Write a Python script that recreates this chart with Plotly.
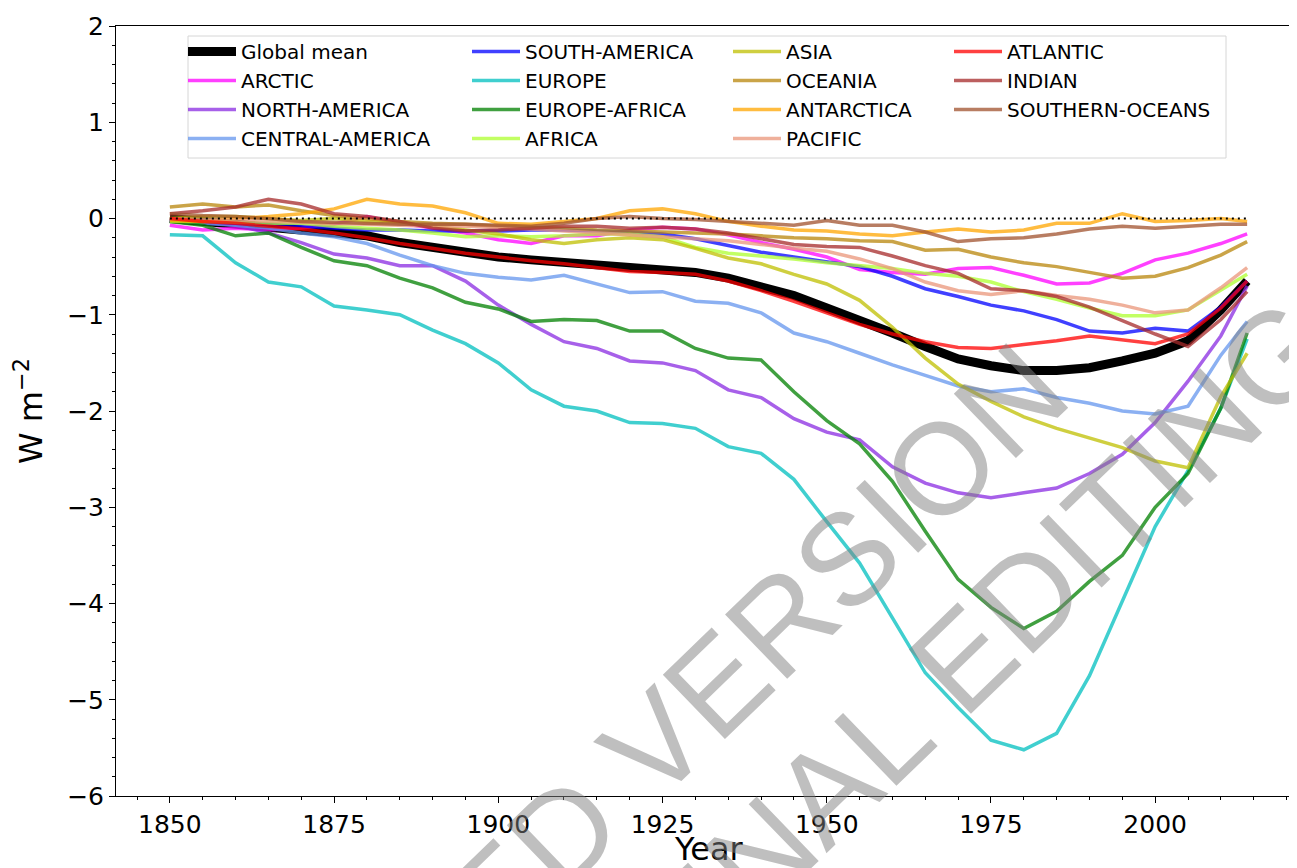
import plotly.graph_objects as go

years = [1850, 1855, 1860, 1865, 1870, 1875, 1880, 1885, 1890, 1895, 1900, 1905,
         1910, 1915, 1920, 1925, 1930, 1935, 1940, 1945, 1950, 1955, 1960, 1965,
         1970, 1975, 1980, 1985, 1990, 1995, 2000, 2005, 2010, 2014]

global_mean = [0.0, -0.03, -0.05, -0.07, -0.10, -0.14, -0.18, -0.25, -0.30, -0.36, -0.40, -0.43,
               -0.46, -0.49, -0.52, -0.53, -0.56, -0.62, -0.70, -0.80, -0.93, -1.05, -1.19, -1.33,
               -1.46, -1.53, -1.58, -1.58, -1.55, -1.48, -1.40, -1.27, -0.95, -0.65]
arctic = [-0.07, -0.12, -0.10, -0.12, -0.10, -0.06, 0.02, -0.05, -0.10, -0.15, -0.22, -0.26,
          -0.18, -0.18, -0.12, -0.09, -0.11, -0.17, -0.25, -0.32, -0.40, -0.53, -0.56, -0.58,
          -0.52, -0.51, -0.59, -0.68, -0.67, -0.57, -0.43, -0.36, -0.26, -0.16]
north_america = [-0.02, -0.04, -0.07, -0.15, -0.25, -0.37, -0.41, -0.49, -0.49, -0.65, -0.90, -1.10,
                 -1.28, -1.35, -1.48, -1.50, -1.58, -1.78, -1.86, -2.08, -2.22, -2.30, -2.58, -2.75,
                 -2.85, -2.90, -2.85, -2.80, -2.65, -2.45, -2.12, -1.69, -1.22, -0.70]
central_america = [-0.02, -0.05, -0.07, -0.10, -0.15, -0.19, -0.26, -0.38, -0.49, -0.57, -0.61, -0.64,
                   -0.59, -0.68, -0.77, -0.76, -0.86, -0.88, -0.98, -1.19, -1.28, -1.40, -1.52, -1.63,
                   -1.74, -1.80, -1.77, -1.86, -1.92, -2.00, -2.03, -1.95, -1.42, -1.07]
south_america = [-0.02, -0.03, -0.05, -0.06, -0.08, -0.10, -0.12, -0.12, -0.13, -0.13, -0.13, -0.12,
                 -0.12, -0.13, -0.14, -0.16, -0.21, -0.28, -0.35, -0.40, -0.45, -0.50, -0.60, -0.73,
                 -0.81, -0.90, -0.96, -1.05, -1.17, -1.19, -1.14, -1.17, -0.92, -0.65]
europe = [-0.17, -0.18, -0.46, -0.66, -0.71, -0.91, -0.95, -1.00, -1.16, -1.30, -1.50, -1.78,
          -1.95, -2.00, -2.12, -2.13, -2.18, -2.37, -2.44, -2.71, -3.15, -3.58, -4.15, -4.72,
          -5.08, -5.42, -5.52, -5.35, -4.75, -3.98, -3.20, -2.62, -1.97, -1.25]
europe_africa = [-0.03, -0.07, -0.18, -0.15, -0.30, -0.44, -0.49, -0.62, -0.72, -0.87, -0.94, -1.07,
                 -1.05, -1.06, -1.17, -1.17, -1.35, -1.45, -1.47, -1.80, -2.10, -2.34, -2.73, -3.25,
                 -3.75, -4.04, -4.26, -4.08, -3.77, -3.50, -3.00, -2.65, -1.97, -1.19]
africa = [-0.03, -0.03, -0.04, -0.05, -0.05, -0.08, -0.10, -0.12, -0.15, -0.19, -0.18, -0.19,
          -0.18, -0.16, -0.16, -0.19, -0.30, -0.36, -0.39, -0.42, -0.46, -0.49, -0.52, -0.57,
          -0.60, -0.66, -0.76, -0.84, -0.93, -1.01, -1.01, -0.95, -0.75, -0.58]
asia = [0.0, 0.02, 0.02, 0.0, -0.02, 0.0, -0.03, -0.05, -0.08, -0.12, -0.16, -0.22,
        -0.26, -0.22, -0.20, -0.22, -0.31, -0.41, -0.47, -0.58, -0.68, -0.85, -1.13, -1.45,
        -1.72, -1.90, -2.06, -2.18, -2.28, -2.38, -2.52, -2.59, -1.85, -1.40]
oceania = [0.12, 0.15, 0.12, 0.14, 0.08, 0.03, 0.0, -0.03, -0.05, -0.06, -0.08, -0.09,
           -0.10, -0.12, -0.13, -0.14, -0.15, -0.16, -0.18, -0.20, -0.21, -0.23, -0.24, -0.33,
           -0.32, -0.40, -0.46, -0.50, -0.56, -0.62, -0.60, -0.51, -0.38, -0.24]
antarctica = [-0.02, -0.03, 0.0, 0.02, 0.05, 0.10, 0.20, 0.15, 0.13, 0.06, -0.05, -0.06,
              -0.03, 0.0, 0.08, 0.10, 0.05, -0.03, -0.08, -0.12, -0.13, -0.16, -0.18, -0.14,
              -0.11, -0.14, -0.12, -0.05, -0.05, 0.05, -0.03, -0.02, 0.0, -0.03]
pacific = [0.0, -0.01, -0.02, -0.03, -0.04, -0.05, -0.06, -0.07, -0.08, -0.08, -0.09, -0.11,
           -0.13, -0.15, -0.17, -0.19, -0.21, -0.23, -0.27, -0.31, -0.34, -0.42, -0.52, -0.66,
           -0.75, -0.79, -0.75, -0.80, -0.84, -0.90, -0.98, -0.95, -0.72, -0.51]
atlantic = [0.0, -0.03, -0.05, -0.08, -0.11, -0.15, -0.20, -0.26, -0.31, -0.36, -0.40, -0.44,
            -0.47, -0.51, -0.55, -0.56, -0.58, -0.65, -0.75, -0.86, -0.98, -1.10, -1.20, -1.28,
            -1.34, -1.35, -1.31, -1.27, -1.22, -1.26, -1.30, -1.20, -0.93, -0.65]
indian = [0.05, 0.08, 0.12, 0.20, 0.15, 0.05, 0.02, -0.03, -0.10, -0.13, -0.12, -0.10,
          -0.08, -0.08, -0.10, -0.09, -0.11, -0.15, -0.21, -0.27, -0.29, -0.30, -0.39, -0.49,
          -0.57, -0.73, -0.75, -0.81, -0.92, -1.06, -1.20, -1.33, -1.05, -0.76]
southern_oceans = [0.05, 0.03, 0.02, 0.0, -0.03, -0.04, -0.05, -0.06, -0.06, -0.06, -0.07, -0.08,
                   -0.05, 0.0, 0.02, 0.0, -0.01, -0.03, -0.05, -0.07, -0.02, -0.07, -0.07, -0.14,
                   -0.24, -0.21, -0.20, -0.16, -0.11, -0.08, -0.10, -0.08, -0.06, -0.06]

zero_years = [1850, 2014]
zero_level = [0, 0]

x_ticks = [1850, 1875, 1900, 1925, 1950, 1975, 2000]
y_ticks = [2, 1, 0, -1, -2, -3, -4, -5, -6]

series = [
    ("Global mean", global_mean, "rgb(0,0,0)", 9),
    ("ARCTIC", arctic, "rgba(255,0,255,0.75)", 3.5),
    ("NORTH-AMERICA", north_america, "rgba(138,43,226,0.75)", 3.5),
    ("CENTRAL-AMERICA", central_america, "rgba(100,149,237,0.75)", 3.5),
    ("SOUTH-AMERICA", south_america, "rgba(0,0,255,0.75)", 3.5),
    ("EUROPE", europe, "rgba(0,191,191,0.75)", 3.5),
    ("EUROPE-AFRICA", europe_africa, "rgba(0,128,0,0.75)", 3.5),
    ("AFRICA", africa, "rgba(173,255,47,0.75)", 3.5),
    ("ASIA", asia, "rgba(191,191,0,0.75)", 3.5),
    ("OCEANIA", oceania, "rgba(184,134,11,0.75)", 3.5),
    ("ANTARCTICA", antarctica, "rgba(255,165,0,0.75)", 3.5),
    ("PACIFIC", pacific, "rgba(233,150,122,0.75)", 3.5),
    ("ATLANTIC", atlantic, "rgba(255,0,0,0.75)", 3.5),
    ("INDIAN", indian, "rgba(165,42,42,0.75)", 3.5),
    ("SOUTHERN-OCEANS", southern_oceans, "rgba(160,82,45,0.75)", 3.5),
]

legend_names = ["legend", "legend2", "legend3", "legend4"]

fig = go.Figure()
for i, (name, vals, color, width) in enumerate(series):
    fig.add_trace(go.Scatter(
        x=years, y=vals, mode="lines", name=name,
        line=dict(color=color, width=width),
        legend=legend_names[i // 4], legendgroup=name,
    ))

fig.add_trace(go.Scatter(
    x=zero_years, y=zero_level, mode="lines", showlegend=False,
    line=dict(color="black", width=2, dash="2px,4px"),
))

W, H = 1297, 868
L, R, T, B = 108, 1293, 18, 788


def px_x(p):
    return (p - L) / (R - L)


def px_y(p):
    return (B - p) / (B - T)


col_starts = [175, 459, 720, 941]
leg_common = dict(
    bgcolor="rgba(0,0,0,0)", borderwidth=0, orientation="v",
    font=dict(family="DejaVu Sans", size=20, color="black"),
    itemwidth=48, tracegroupgap=0, yanchor="top", xanchor="left",
    y=px_y(24),
)
layout_legends = {}
for k, ln in enumerate(legend_names):
    layout_legends[ln] = dict(leg_common, x=px_x(col_starts[k]))

fig.update_layout(**layout_legends)

fig.add_shape(type="rect", xref="paper", yref="paper",
              x0=px_x(180), x1=px_x(1218), y0=px_y(150), y1=px_y(28),
              line=dict(color="#d6d6d6", width=1), fillcolor="white", layer="below")

axis_font = dict(family="DejaVu Sans", size=25, color="black")
title_font = dict(family="DejaVu Sans", size=32, color="black")
fig.update_xaxes(
    range=[1841.8, 2022.2], tickvals=x_ticks, ticks="outside", ticklen=6, tickwidth=1,
    tickcolor="black", tickfont=axis_font, showgrid=False, zeroline=False,
    showline=True, linecolor="black", linewidth=1, mirror=True,
    minor=dict(dtick=5, tick0=1850, ticks="outside", ticklen=3, tickcolor="black"),
    automargin=False,
)
fig.update_yaxes(
    range=[-6, 2], tickvals=y_ticks, ticks="outside", ticklen=6, tickwidth=1,
    tickcolor="black", tickfont=axis_font, showgrid=False, zeroline=False,
    showline=True, linecolor="black", linewidth=1, mirror=True,
    minor=dict(dtick=0.2, tick0=0, ticks="outside", ticklen=3, tickcolor="black"),
    title=dict(text="W m<sup>−2</sup>", font=title_font, standoff=14),
    automargin=False,
)

# x-axis title placed as an annotation so it sits just under the tick labels
fig.add_annotation(text="Year", xref="paper", yref="paper", x=0.5, y=px_y(841),
                   xanchor="center", yanchor="middle", showarrow=False, font=title_font)

wm_font = dict(family="Liberation Sans", size=130, color="rgba(128,128,128,0.5)")
fig.add_annotation(text="ACCEPTED VERSION", xref="paper", yref="paper",
                   x=px_x(558), y=px_y(822), xanchor="center", yanchor="middle",
                   textangle=-44, showarrow=False, font=wm_font)
fig.add_annotation(text="SUBJECT TO FINAL EDITING", xref="paper", yref="paper",
                   x=px_x(668), y=px_y(928), xanchor="center", yanchor="middle",
                   textangle=-44, showarrow=False, font=wm_font)

fig.update_layout(
    width=W, height=H, margin=dict(l=L, r=W - R, t=T, b=H - B),
    paper_bgcolor="white", plot_bgcolor="white",
    font=dict(family="DejaVu Sans"),
)

fig.write_html("out.html")
